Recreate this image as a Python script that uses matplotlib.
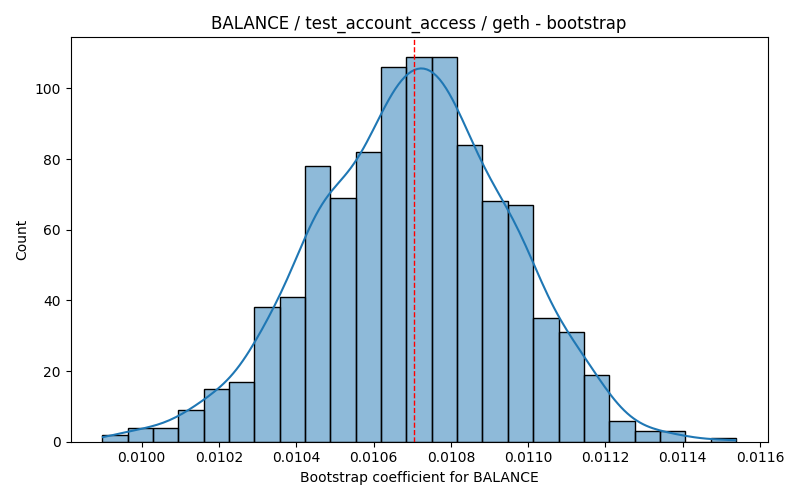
import matplotlib
matplotlib.use("Agg")
import matplotlib.pyplot as plt
from matplotlib.ticker import MultipleLocator, FormatStrFormatter
import numpy as np
import seaborn as sns

# histogram: 25 equal bins over the bootstrap range
bin_lo = 0.009898
bin_hi = 0.011538
counts = [2, 4, 4, 9, 15, 17, 38, 41, 78, 69, 82, 106, 109,
          109, 84, 68, 67, 35, 31, 19, 6, 3, 3, 0, 1]
mean_coef = 0.010704

n_bins = len(counts)
width = (bin_hi - bin_lo) / n_bins
centers = bin_lo + width * (np.arange(n_bins) + 0.5)
# one value per bootstrap draw, placed at its bin centre
samples = np.repeat(centers, counts)

fig, ax = plt.subplots(figsize=(8, 5), dpi=100)
sns.histplot(x=samples, bins=n_bins, binrange=(bin_lo, bin_hi),
             kde=True, kde_kws={"cut": 0.5}, edgecolor="black", ax=ax)
ax.axvline(mean_coef, color="red", linestyle="--", linewidth=1)
ax.xaxis.set_major_locator(MultipleLocator(0.0002))
ax.xaxis.set_major_formatter(FormatStrFormatter("%.4f"))
ax.set_title("BALANCE / test_account_access / geth - bootstrap")
ax.set_xlabel("Bootstrap coefficient for BALANCE")
ax.set_ylabel("Count")
plt.tight_layout()
plt.savefig("out.png")
